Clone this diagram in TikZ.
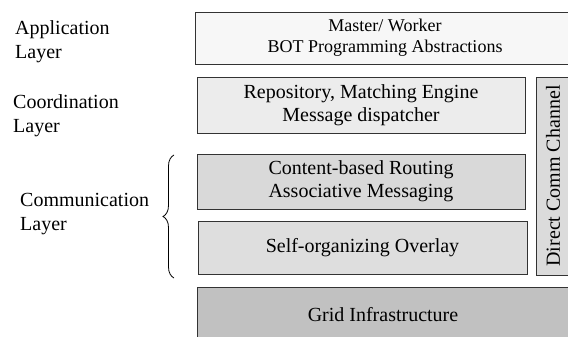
\documentclass[tikz,border=0pt]{standalone}
\usepackage{fontspec}
\setmainfont{Liberation Serif}
\usetikzlibrary{positioning,decorations.pathreplacing}

\definecolor{appfill}{gray}{0.97}
\definecolor{coordfill}{gray}{0.925}
\definecolor{routefill}{gray}{0.85}
\definecolor{overlayfill}{gray}{0.87}
\definecolor{directfill}{gray}{0.86}
\definecolor{gridfill}{gray}{0.755}

\begin{document}
\begin{tikzpicture}[x=1pt, y=-1pt,
  layer/.style={rectangle, draw=black!80, line width=0.9pt, align=center, inner sep=0pt, outer sep=0pt, font=\fontsize{20}{23}\selectfont},
  lyrname/.style={align=left, anchor=west, inner sep=0pt, font=\fontsize{20}{24}\selectfont}]

%Frame
\clip (0,0) rectangle (568,337);

%Nodes
\node[layer, fill=appfill, minimum width=380pt, minimum height=52pt, anchor=north west, font=\fontsize{18}{21}\selectfont] (appl) at (195,12) {Master/ Worker\\BOT Programming Abstractions};
\node[layer, fill=coordfill, minimum width=328pt, minimum height=56pt, below=13pt of appl.south west, anchor=north west, xshift=2pt] (coord) {Repository, Matching Engine\\Message dispatcher};
\node[layer, fill=routefill, minimum width=328pt, minimum height=55pt, below=21pt of coord.south west, anchor=north west] (route) {Content-based Routing\\Associative Messaging};
\node[layer, fill=overlayfill, minimum width=329pt, minimum height=53pt, below=12pt of route.south west, anchor=north west, xshift=1pt] (overlay) {Self-organizing Overlay};
\node[layer, fill=gridfill, minimum width=372pt, minimum height=55pt, below=13pt of overlay.south west, anchor=north west, xshift=-1pt] (grid) {Grid Infrastructure};
\node[layer, fill=directfill, rotate=90, minimum width=198pt, minimum height=34pt] (direct) at (553,176) {Direct Comm Channel};

%Layer names
\node[lyrname] (applname)  at (15,42)  {Application\\Layer};
\node[lyrname] (coordname) at (13,116) {Coordination\\Layer};
\node[lyrname] (commname)  at (20,214) {Communication\\Layer};

%Brace
\coordinate (bb) at (174,278);
\coordinate (bt) at (174,155);
\draw[decorate, decoration={brace, amplitude=11pt}, line width=0.8pt] (bb) -- (bt);

\end{tikzpicture}
\end{document}
